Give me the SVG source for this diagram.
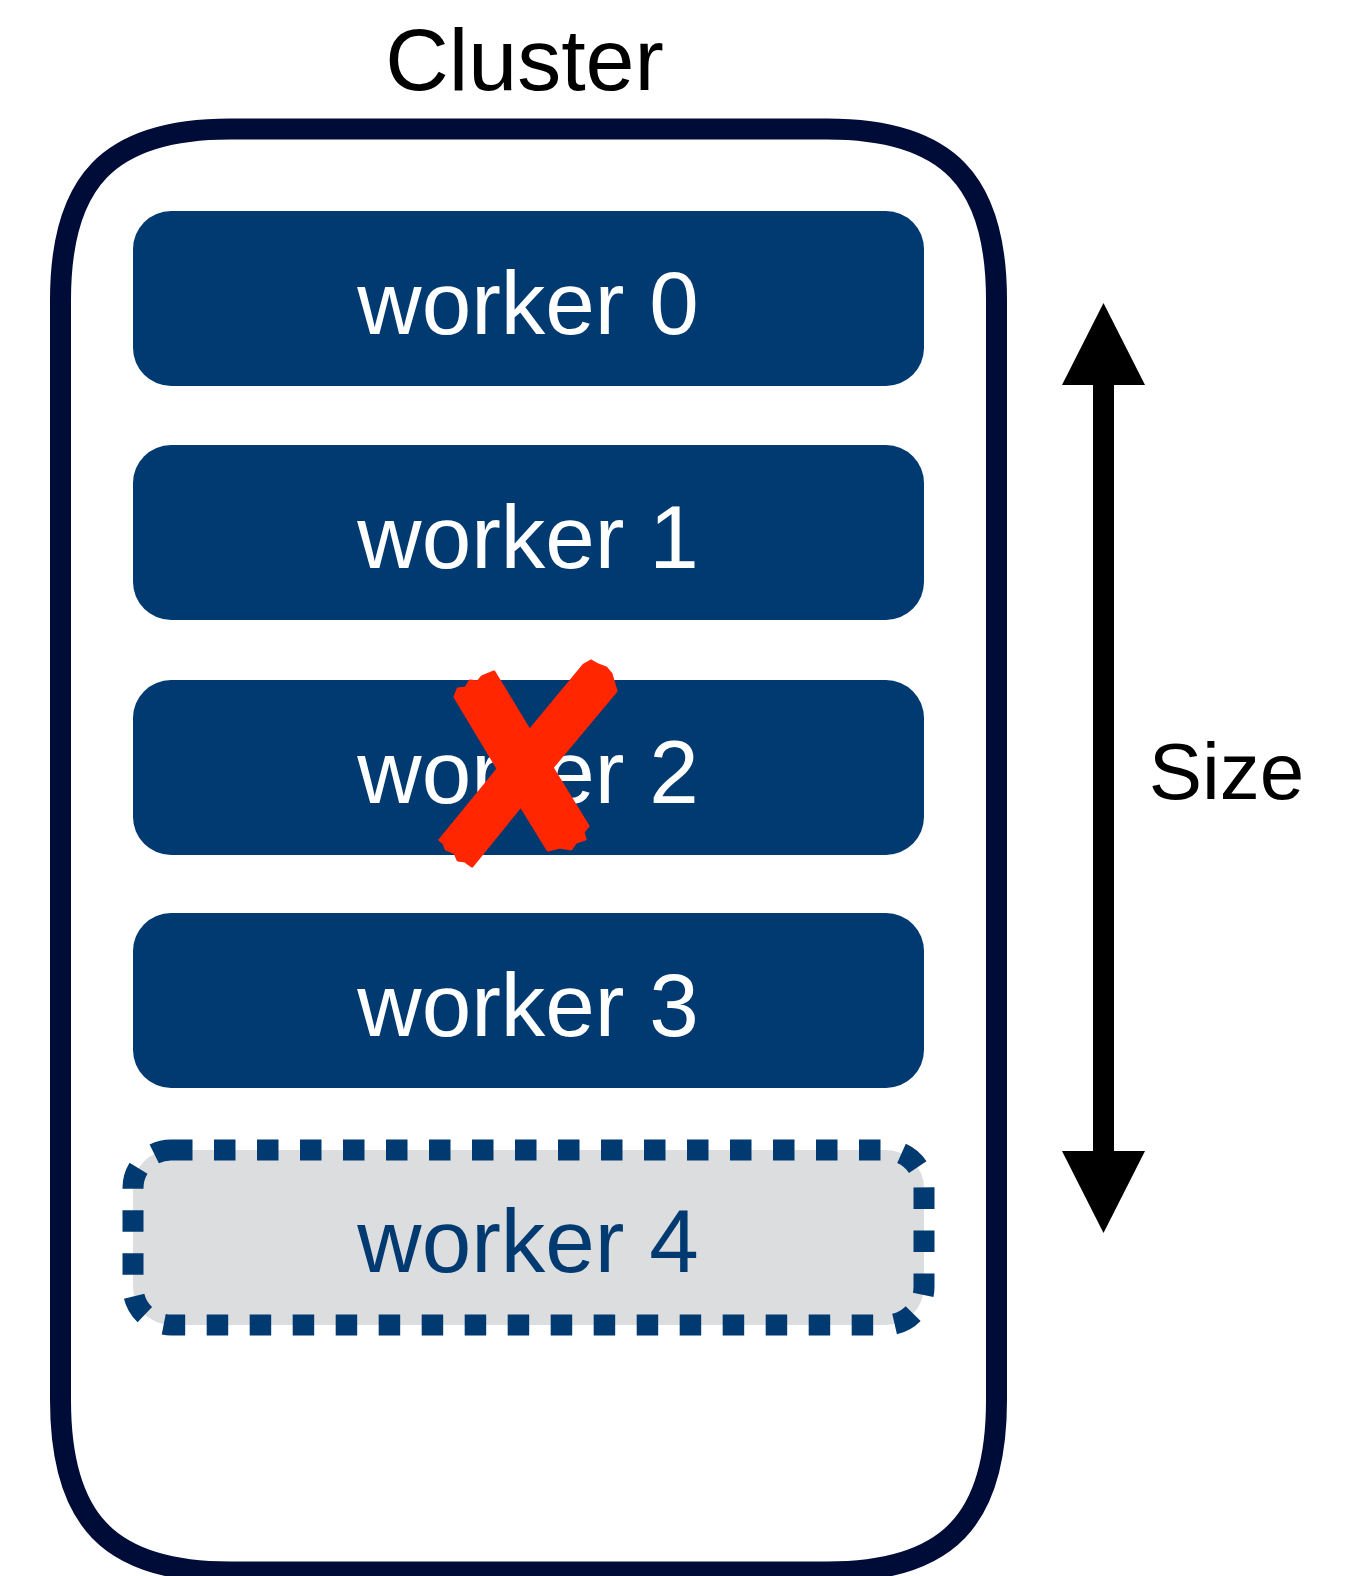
<svg xmlns="http://www.w3.org/2000/svg" width="1364" height="1576" viewBox="0 0 1364 1576">
<style>
.w{fill:#013A70}
.wt{font-family:"Liberation Sans",Arial,sans-serif;font-size:89px;fill:#FFFFFF;text-anchor:middle}
.lbl{font-family:"Liberation Sans",Arial,sans-serif;fill:#000000}
</style>
<rect width="1364" height="1576" fill="#FFFFFF"/>
<g id="cluster">
<path d="M60.5,300 C60.5,182 108,129 230,129 L827,129 C949,129 996.5,182 996.5,300 L996.5,1400 C996.5,1519 949,1572 827,1572 L230,1572 C108,1572 60.5,1519 60.5,1400 Z" fill="none" stroke="#000C38" stroke-width="21"/>
<text class="lbl" x="524.5" y="90" font-size="88" text-anchor="middle">Cluster</text>
</g>
<g id="worker0">
<rect class="w" x="133" y="211" width="791" height="175" rx="38"/>
<text class="wt" x="528" y="334">worker 0</text>
</g>
<g id="worker1">
<rect class="w" x="133" y="445" width="791" height="175" rx="38"/>
<text class="wt" x="528" y="568">worker 1</text>
</g>
<g id="worker2">
<rect class="w" x="133" y="680" width="791" height="175" rx="38"/>
<text class="wt" x="528" y="803">worker 2</text>
<g id="failed-mark" fill="#FF2600" stroke="#FF2600" stroke-width="3" stroke-linejoin="round">
<polygon points="455,697 458,689 466,688 470,681 478,682 482,677 494,672 540,748 588,826 583,832 585,839 576,842 571,849 560,847 548,850 500,772"/>
<polygon points="584,665 591,661 598,665 606,668 611,674 616,691 545,776 472,866 465,861 458,860 455,853 446,849 444,843 440,840 512,752"/>
</g>
</g>
<g id="worker3">
<rect class="w" x="133" y="913" width="791" height="175" rx="38"/>
<text class="wt" x="528" y="1036">worker 3</text>
</g>
<g id="worker4">
<rect x="133" y="1150" width="791" height="175" rx="38" fill="#DCDDDF" stroke="#013A70" stroke-width="21" stroke-dasharray="21.5 21.5"/>
<text class="wt" x="528" y="1272" style="fill:#013A70">worker 4</text>
</g>
<g id="connectors">
<line x1="1103.5" y1="380" x2="1103.5" y2="1156" stroke="#000" stroke-width="21"/>
<polygon points="1103.5,303 1145,385 1062,385" fill="#000"/>
<polygon points="1103.5,1233 1145,1151 1062,1151" fill="#000"/>
</g>
<g id="size-label">
<text class="lbl" x="1226.5" y="799" font-size="80" text-anchor="middle">Size</text>
</g>
</svg>
